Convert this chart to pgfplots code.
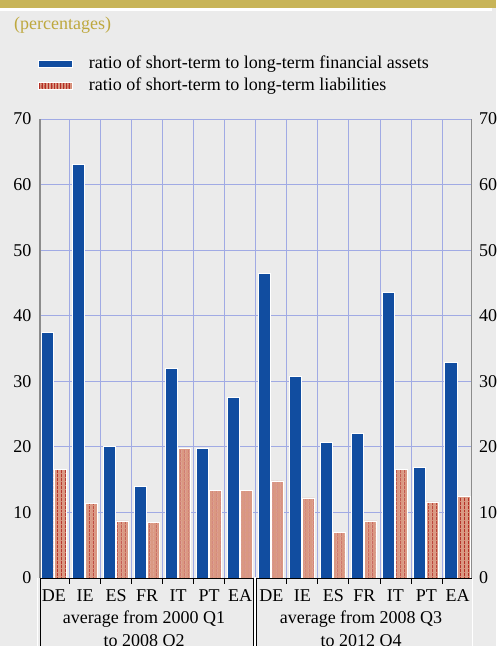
\documentclass[border=0pt]{standalone}
\usepackage{fontspec}
\setmainfont{Liberation Serif}
\usepackage{pgfplots}
\pgfplotsset{compat=1.18}
\usetikzlibrary{patterns.meta}
\definecolor{bg}{RGB}{235,235,235}
\definecolor{gold}{RGB}{200,180,88}
\definecolor{goldtext}{RGB}{190,168,62}
\definecolor{barblue}{RGB}{17,77,160}
\definecolor{salmon}{RGB}{218,152,130}
\definecolor{stripe}{RGB}{180,45,35}
\definecolor{gridc}{RGB}{160,170,228}
\definecolor{axisgray}{RGB}{140,140,140}
\newcommand{\lab}{\fontsize{18}{22}\selectfont}
\begin{document}
\begin{tikzpicture}
\useasboundingbox (0pt,0pt) rectangle (496pt,646pt);
\clip (0pt,0pt) rectangle (496pt,646pt);
\fill[bg] (0pt,0pt) rectangle (496pt,646pt);
\fill[gold] (0pt,638pt) rectangle (496pt,646pt);
\fill[white] (0pt,635pt) rectangle (492pt,638pt);
\node[anchor=base west, font=\lab, text=goldtext, inner sep=0pt] at (14pt,616.5pt) {(percentages)};

\begin{axis}[
  at={(255.75pt,297.5pt)}, anchor=center, scale only axis,
  width=431.5pt, height=459pt,
  xmin=-0.45, xmax=13.45, ymin=0, ymax=70,
  xtick={0,...,13},
  xticklabels={DE,IE,ES,FR,IT,PT,EA,DE,IE,ES,FR,IT,PT,EA},
  minor xtick={0.5,1.5,...,12.5},
  ytick={0,10,...,70},
  axis x line*=bottom, axis y line*=left,
  x axis line style={black, line width=0.8pt, -},
  y axis line style={axisgray, line width=1.6pt, -},
  ymajorgrids, xminorgrids,
  major grid style={gridc, line width=0.8pt},
  minor grid style={gridc, line width=0.8pt},
  major tick length=0pt, minor tick length=6pt, tick align=outside,
  major x tick style={draw=none},
  minor x tick style={black, line width=0.8pt},
  tick label style={font=\lab},
  /pgf/number format/assume math mode=true,
  xticklabel style={anchor=base, inner sep=0pt, yshift=-24pt},
  yticklabel style={anchor=east, inner sep=0pt, xshift=-8.5pt},
  legend cell align=left,
  legend style={at={(axis description cs:0,1)}, anchor=north west,
    xshift=-2pt, yshift=63.7pt, draw=none, fill=none, inner sep=0pt,
    outer sep=0pt, row sep=5.4pt, font=\lab,
    nodes={inner sep=0pt, text height=13pt, text depth=4pt}},
]
\addplot[ybar, bar width=12.4pt, bar shift=-6.8pt, fill=barblue, draw=white, line width=0.8pt,
  legend image code/.code={\draw[fill=barblue, draw=white, line width=1pt] (0pt,-3.5pt) rectangle (34pt,3.5pt); \path (50pt,0pt);}]
  coordinates {(0,37.5) (1,63.0) (2,20.1) (3,13.9) (4,32.0) (5,19.8) (6,27.5)
               (7,46.4) (8,30.8) (9,20.7) (10,22.0) (11,43.6) (12,16.8) (13,32.9)};
\addlegendentry{ratio of short-term to long-term financial assets}
\addplot[ybar, bar width=12.4pt, bar shift=6.2pt, fill=salmon, draw=white, line width=0.8pt,
  postaction={pattern={Lines[angle=90,distance=4pt,line width=0.9pt]}, pattern color=stripe},
  legend image code/.code={\draw[fill=salmon, draw=white, line width=1pt, postaction={pattern={Lines[angle=90,distance=3pt,line width=0.8pt]}, pattern color=stripe}] (0pt,-3.5pt) rectangle (34pt,3.5pt); \path (50pt,0pt);}]
  coordinates {(0,16.5) (1,11.3) (2,8.7) (3,8.5) (4,19.7) (5,13.3) (6,13.3)
               (7,14.8) (8,12.2) (9,7.0) (10,8.7) (11,16.5) (12,11.6) (13,12.4)};
\addlegendentry{ratio of short-term to long-term liabilities}
\end{axis}

\begin{axis}[
  at={(255.75pt,297.5pt)}, anchor=center, scale only axis,
  width=431.5pt, height=459pt,
  xmin=-0.45, xmax=13.45, ymin=0, ymax=70,
  axis x line=none, axis y line*=right,
  y axis line style={axisgray, line width=1.6pt, -},
  ytick={0,10,...,70}, major tick length=0pt,
  tick label style={font=\lab},
  /pgf/number format/assume math mode=true,
  yticklabel style={anchor=west, inner sep=0pt, xshift=7.5pt},
]
\end{axis}

% group boxes
\draw[black, line width=0.8pt] (40pt,68.4pt) -- (40pt,-5pt);
\draw[black, line width=0.8pt] (253.3pt,68.4pt) -- (253.3pt,-5pt);
\draw[white, line width=1.6pt] (254.7pt,68.8pt) -- (254.7pt,-5pt);
\draw[black, line width=0.8pt] (256pt,68.4pt) -- (256pt,-5pt);
\draw[white, line width=0.8pt] (472.6pt,67.6pt) -- (472.6pt,-5pt);
\draw[white, line width=0.8pt] (37.8pt,67.6pt) -- (37.8pt,-5pt);
\node[anchor=base, font=\lab, inner sep=0pt] at (144pt,22pt) {average from 2000 Q1};
\node[anchor=base, font=\lab, inner sep=0pt] at (144pt,-1pt) {to 2008 Q2};
\node[anchor=base, font=\lab, inner sep=0pt] at (361pt,22pt) {average from 2008 Q3};
\node[anchor=base, font=\lab, inner sep=0pt] at (361pt,-1pt) {to 2012 Q4};
\end{tikzpicture}
\end{document}
